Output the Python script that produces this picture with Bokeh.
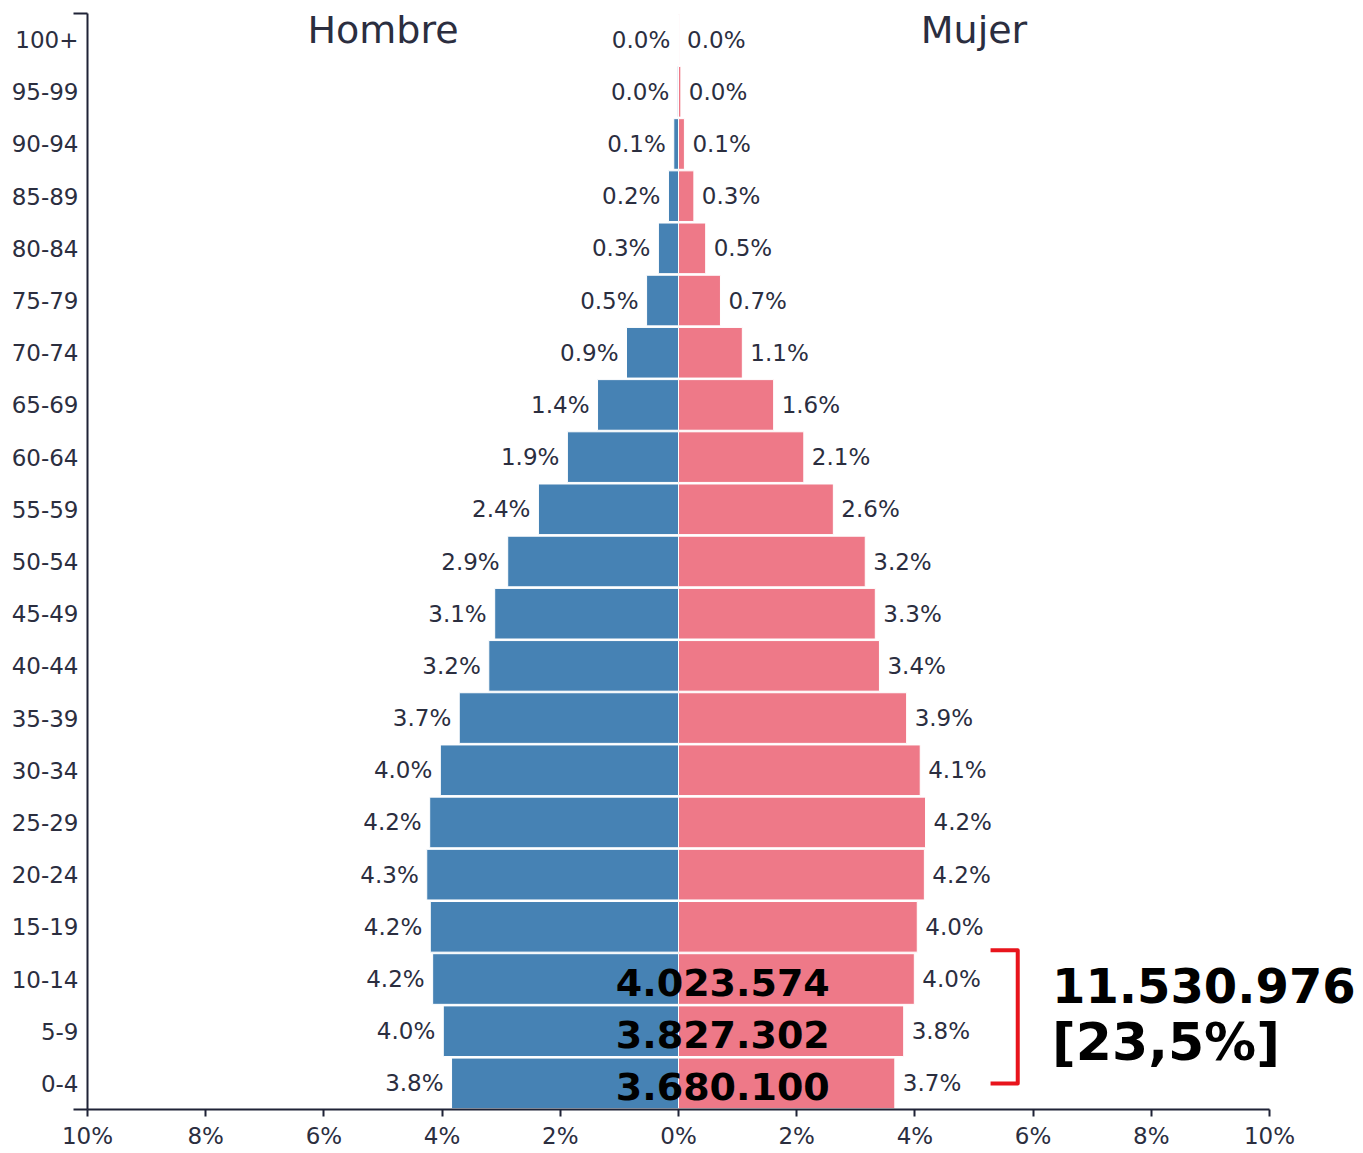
from bokeh.plotting import figure
from bokeh.models import ColumnDataSource, FixedTicker, Range1d
from bokeh.core.properties import value
from bokeh.embed import file_html
from bokeh.resources import INLINE

# ---------------- data ----------------
age_groups = ["0-4", "5-9", "10-14", "15-19", "20-24", "25-29", "30-34", "35-39",
              "40-44", "45-49", "50-54", "55-59", "60-64", "65-69", "70-74", "75-79",
              "80-84", "85-89", "90-94", "95-99", "100+"]
male_pct = [3.84, 3.98, 4.16, 4.20, 4.26, 4.21, 4.03, 3.71, 3.21, 3.11, 2.89, 2.37,
            1.88, 1.37, 0.88, 0.54, 0.34, 0.17, 0.08, 0.02, 0.004]
female_pct = [3.66, 3.81, 3.99, 4.04, 4.16, 4.18, 4.09, 3.86, 3.40, 3.33, 3.16, 2.62,
              2.12, 1.61, 1.08, 0.71, 0.46, 0.26, 0.10, 0.04, 0.01]
young_groups = ["0-4", "5-9", "10-14"]
young_pop = [3680100, 3827302, 4023574]
young_share = 23.5
x_ticks = [-10, -8, -6, -4, -2, 0, 2, 4, 6, 8, 10]

TEXT = "#2b2e3f"
AXIS = "#1f2336"
BLUE = "#4682b4"
PINK = "#ee7988"
FONT = "DejaVu Sans"

def fmt_int(v):
    return f"{v:,}".replace(",", ".")

idx = list(range(len(age_groups)))
src = ColumnDataSource(dict(
    y=idx,
    mneg=[-v for v in male_pct],
    f=female_pct,
    mlab=[f"{v:.1f}%" for v in male_pct],
    flab=[f"{v:.1f}%" for v in female_pct],
))

p = figure(frame_width=1268, frame_height=1096,
           min_border_left=87, min_border_right=0, min_border_top=13, min_border_bottom=0,
           x_range=Range1d(-10, 11.455), y_range=Range1d(-0.5, 20.5),
           output_backend="svg", toolbar_location=None)
p.outline_line_color = None
p.xgrid.visible = False
p.ygrid.visible = False
p.background_fill_color = "white"

# bars
p.hbar(y="y", left="mneg", right=0, height=0.97, source=src,
       fill_color=BLUE, line_color="white", line_width=1)
p.hbar(y="y", left=0, right="f", height=0.97, source=src,
       fill_color=PINK, line_color="white", line_width=1)

# bar value labels
p.text(x="mneg", y="y", text="mlab", source=src, x_offset=-8,
       text_align="right", text_baseline="middle", text_font=value(FONT),
       text_font_size="23px", text_color=TEXT)
p.text(x="f", y="y", text="flab", source=src, x_offset=8,
       text_align="left", text_baseline="middle", text_font=value(FONT),
       text_font_size="23px", text_color=TEXT)

# side titles
p.text(x=[-5, 5], y=[20, 20], text=["Hombre", "Mujer"], y_offset=-10,
       text_align="center", text_baseline="middle", text_font=value(FONT),
       text_font_size="38px", text_color=TEXT)

# population of the youngest groups
yi = [age_groups.index(g) for g in young_groups]
p.text(x=[0.75] * len(yi), y=yi, text=[fmt_int(v) for v in young_pop], y_offset=3,
       text_align="center", text_baseline="middle", text_font=value(FONT),
       text_font_style="bold", text_font_size="38px", text_color="black")

# bracket + total
top = max(yi) + 0.55
bot = min(yi)
bx0, bx1 = 5.28, 5.74
p.line(x=[bx0, bx1, bx1, bx0], y=[top, top, bot, bot], line_color="#e8141c",
       line_width=4, line_join="round")
mid = (top + bot) / 2
p.text(x=[6.32], y=[mid + 0.6], text=[fmt_int(sum(young_pop))],
       text_align="left", text_baseline="middle", text_font=value(FONT),
       text_font_style="bold", text_font_size="48px", text_color="black")
p.text(x=[6.32], y=[mid - 0.48],
       text=["[" + f"{young_share:.1f}".replace(".", ",") + "%]"],
       text_align="left", text_baseline="middle", text_font=value(FONT),
       text_font_style="bold", text_font_size="52px", text_color="black")

# axes
xa = p.xaxis[0]
xa.ticker = FixedTicker(ticks=x_ticks)
xa.major_label_overrides = {t: f"{abs(t)}%" for t in x_ticks}
xa.bounds = (-10, 10)
xa.axis_line_color = AXIS
xa.axis_line_width = 2
xa.major_tick_line_color = AXIS
xa.major_tick_line_width = 2
xa.major_tick_out = 7
xa.major_tick_in = 0
xa.minor_tick_line_color = None
xa.major_label_standoff = 6
xa.major_label_text_font = FONT
xa.major_label_text_font_size = "23px"
xa.major_label_text_color = TEXT

ya = p.yaxis[0]
ya.ticker = FixedTicker(ticks=idx, minor_ticks=[-0.5, 20.5])
ya.major_label_overrides = {i: g for i, g in enumerate(age_groups)}
ya.axis_line_color = AXIS
ya.axis_line_width = 2
ya.major_tick_out = 0
ya.major_tick_in = 0
ya.major_tick_line_color = None
ya.minor_tick_line_color = AXIS
ya.minor_tick_line_width = 2
ya.minor_tick_out = 14
ya.minor_tick_in = 0
ya.major_label_standoff = -5
ya.major_label_text_font = FONT
ya.major_label_text_font_size = "23px"
ya.major_label_text_color = TEXT

open("out.html", "w").write(file_html(p, INLINE))
